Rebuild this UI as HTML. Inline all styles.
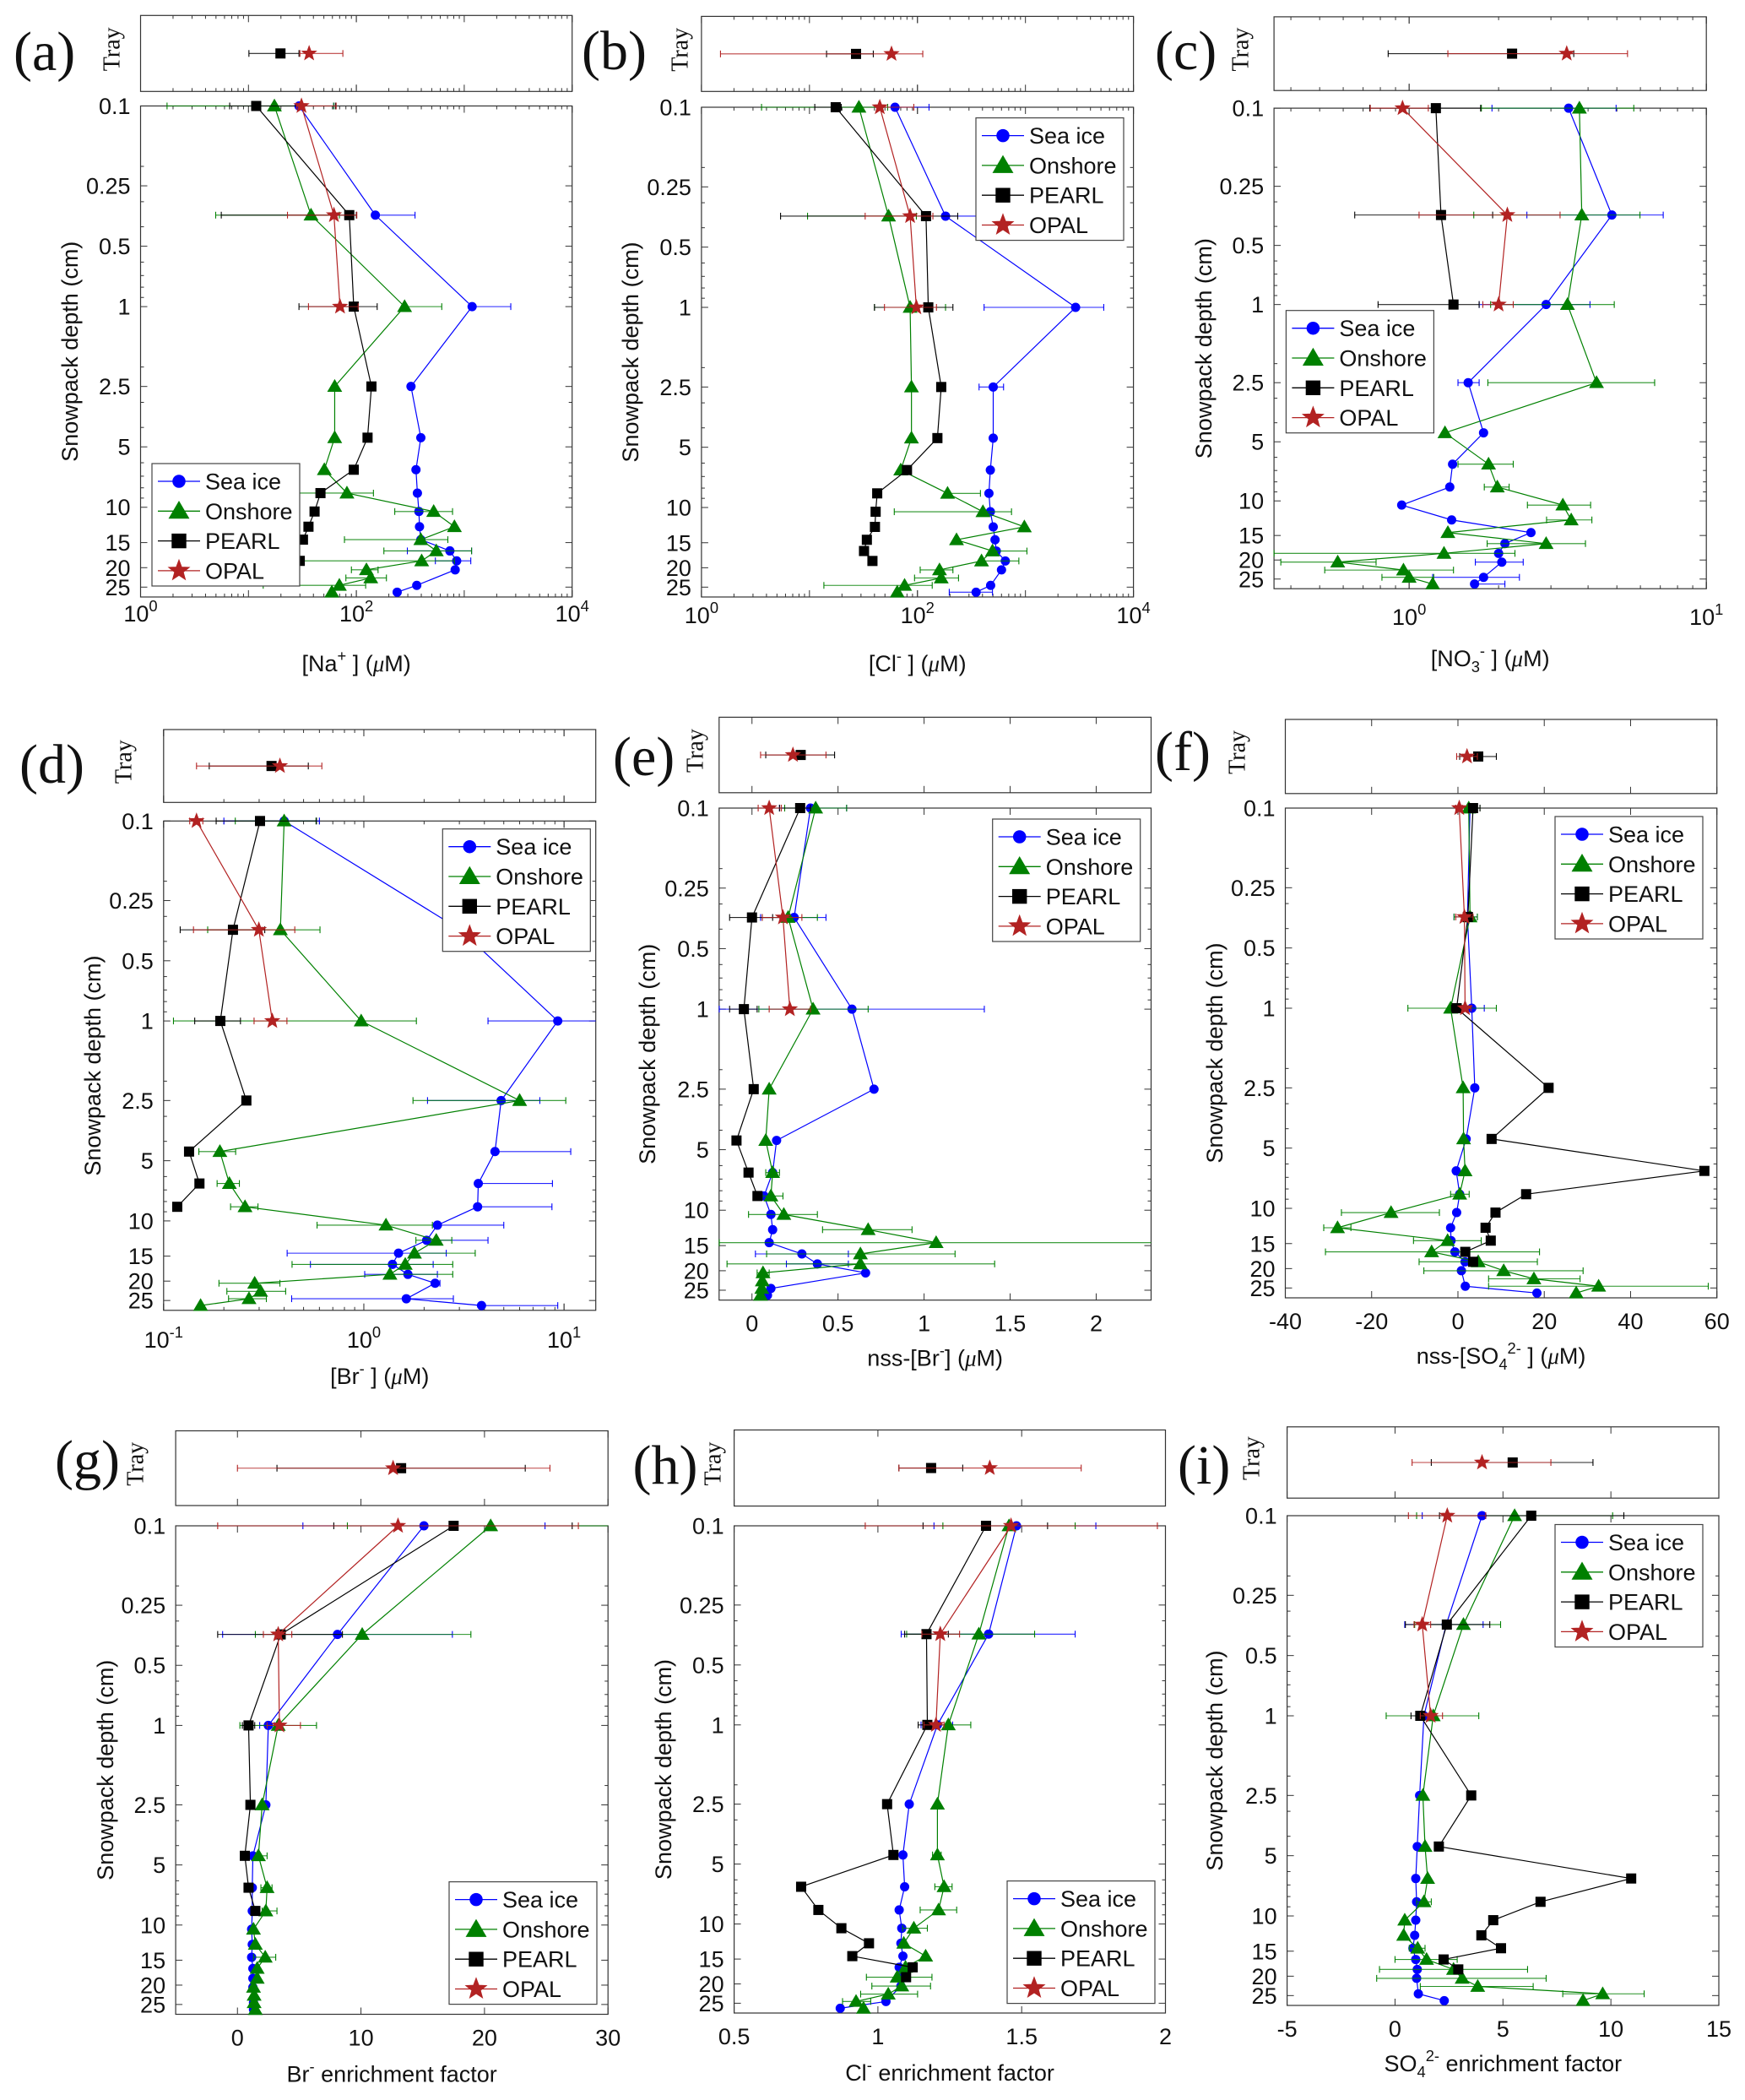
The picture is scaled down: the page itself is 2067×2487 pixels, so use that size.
<!DOCTYPE html>
<html><head><meta charset="utf-8"><style>
html,body{margin:0;padding:0;background:#fff;}
svg{display:block;}
</style></head><body>
<svg id="fig" xmlns="http://www.w3.org/2000/svg" width="2067" height="2487" viewBox="0 0 2067 2487" font-family="Liberation Sans, sans-serif">
<rect x="0" y="0" width="2067" height="2487" fill="#fff"/>
</svg>
<script>
// ---------- data (depths in cm) ----------
const DEPTHS = [0.1,0.35,1,2.5,4.5,6.5,8.5,10.5,12.5,14.5,16.5,18.5,20.5,22.5,24.5,26.5];
const DEPTHS_SEA = [0.1,0.35,1,2.5,4.5,6.5,8.5,10.5,12.5,14.5,16.5,18.5,20.5,24.5,26.5];
const Y_TICKS = [0.1,0.25,0.5,1,2.5,5,10,15,20,25];
const Y_TICK_LABELS = ['0.1','0.25','0.5','1','2.5','5','10','15','20','25'];

// (a) Na+
const A_SEA=[29.4,150,1183,321,396,357,368,380,385,396,736,851,824,363,239];
const A_ON=[17.4,38,280,63,63,50.5,81.8,521,811,396,551,403,124,136,69.6,59.3];
const A_PEARL=[11.8,86,94.6,138,127,94.6,46.5,41,36,32,24.4,29.9];
const A_OPAL=[31,62,70.6];
const A_SEA_ERR=[[0,28.6,61.6],[1,150,350],[2,1183,2700],[10,297,1170],[11,540,1150]];
const A_ON_ERR=[[0,1.76,61.6],[1,4.97,69.6],[2,280,619],[6,18.1,144],[7,227,779],[9,77.6,705],[10,180,1170],[11,16,811],[12,90,159],[13,80,190],[14,13.7,122]];
const A_PEARL_ERR=[[0,6.7,64],[1,5.6,100],[2,29.4,156]];
const A_OPAL_ERR=[[0,28,65],[1,23,101],[2,36,104]];
const A_TRAY_PEARL=[19.8,10.1,29.4];
const A_TRAY_OPAL=[36.5,30,75];
const A_XTICKS=[1,100,10000];
const A_XTICK_LABELS=['0','2','4'];

// (b) Cl-
const B_SEA=[62,182,2913,503,503,473,459,473,503,523,537,651,600,476,349];
const B_ON=[28.7,54,85.5,88,88,70,190,404,977,230,495,392,160,166,76,65];
const B_PEARL=[17.5,120,126,166,153,80,42.4,41,40.4,34,32,38.3];
const B_OPAL=[44.8,85.5,97.7];
const B_SEA_ERR=[[0,62,128],[1,182,424],[2,414,5310],[3,372,627],[14,197,495]];
const B_ON_ERR=[[0,3.6,53],[1,9.6,97.7],[2,40,182],[6,190,383],[7,61,743],[10,495,1032],[11,392,869],[12,106,213],[13,94,240],[14,13.6,137]];
const B_PEARL_ERR=[[0,11.2,19.7],[1,5.4,236],[2,40,213]];
const B_OPAL_ERR=[[0,44.8,92.5],[1,32.8,139],[2,49.5,150]];
const B_TRAY_PEARL=[27,14.4,39];
const B_TRAY_OPAL=[57.5,1.5,112];
const B_XTICKS=[1,100,10000];
const B_XTICK_LABELS=['0','2','4'];

// (c) NO3-
const C_SEA=[3.44,4.81,2.89,1.58,1.78,1.40,1.37,0.944,1.39,2.57,2.10,2.0,2.05,1.78,1.66];
const C_ON=[3.74,3.81,3.41,4.27,1.32,1.85,1.98,3.29,3.51,1.35,2.89,1.31,0.575,0.957,1.0,1.2];
const C_PEARL=[1.23,1.28,1.41];
const C_OPAL=[0.95,2.14,2.0];
const C_SEA_ERR=[[0,1.9,4.97],[1,2.49,7.16],[2,1.72,4.06],[3,1.46,1.72],[12,1.67,2.42],[13,1.2,2.35],[14,1.66,2.1]];
const C_ON_ERR=[[0,1.75,5.7],[1,1.65,5.98],[2,1.88,4.9],[3,1.84,6.7],[5,1.46,2.24],[6,1.79,2.17],[7,2.5,4.08],[8,2.9,4.12],[10,1.83,3.92],[11,0.35,2.27],[12,0.37,0.774],[13,0.52,1.41],[14,0.81,1.21]];
const C_PEARL_ERR=[[0,0.737,1.74],[1,0.656,1.91],[2,0.786,1.72]];
const C_OPAL_ERR=[[0,0.74,1.16],[1,1.08,3.22],[2,1.77,2.24]];
const C_TRAY_PEARL=[2.22,0.85,3.58];
const C_TRAY_OPAL=[3.39,1.35,5.43];
const C_XTICKS=[1,10];
const C_XTICK_LABELS=['0','1'];

// (d) Br-
const D_SEA=[0.4,3.04,9.3,4.85,4.52,3.73,3.7,2.33,2.06,1.49,1.39,1.66,2.27,1.63,3.87];
const D_ON=[0.4,0.383,0.97,6.0,0.191,0.213,0.255,1.29,2.3,1.79,1.61,1.35,0.285,0.305,0.267,0.153];
const D_PEARL=[0.303,0.222,0.192,0.259,0.134,0.151,0.117];
const D_OPAL=[0.146,0.299,0.349];
const D_SEA_ERR=[[0,0.2,0.6],[2,4.17,20],[3,2.08,7.57],[4,4.52,10.8],[5,3.73,8.75],[6,3.7,8.7],[7,2.33,5.0],[8,2.06,4.17],[9,0.414,2.58],[10,0.541,2.22],[11,1.01,2.33],[12,2.27,2.4],[13,0.436,2.8],[14,3.87,9.3]];
const D_ON_ERR=[[0,0.228,0.577],[1,0.166,0.604],[2,0.112,1.83],[3,1.76,10.2],[4,0.15,0.229],[5,0.185,0.239],[6,0.216,0.296],[7,0.584,2.2],[8,1.82,2.75],[9,1.79,3.6],[10,0.438,2.78],[11,1.35,2.78],[12,0.189,0.381],[13,0.207,0.407],[14,0.211,0.326]];
const D_PEARL_ERR=[[0,0.183,0.58],[1,0.121,0.32],[2,0.143,0.242]];
const D_OPAL_ERR=[[0,0.135,0.157],[1,0.141,0.452],[2,0.283,0.413]];
const D_TRAY_PEARL=[0.346,0.169,0.528];
const D_TRAY_OPAL=[0.381,0.146,0.617];
const D_XTICKS=[0.1,1,10];
const D_XTICK_LABELS=['-1','0','1'];

// (e) nss-Br-
const E_SEA=[0.34,0.245,0.581,0.709,0.143,0.12,0.07,0.11,0.12,0.10,0.29,0.38,0.66,0.11,0.09];
const E_ON=[0.37,0.21,0.355,0.10,0.08,0.12,0.11,0.185,0.675,1.07,0.63,0.63,0.064,0.06,0.057,0.05];
const E_PEARL=[0.28,0.0,-0.047,0.01,-0.09,-0.02,0.032];
const E_OPAL=[0.1,0.18,0.22];
const E_SEA_ERR=[[0,0.16,0.55],[1,0.05,0.43],[2,-0.19,1.35],[10,0.02,0.56],[11,0.2,0.56]];
const E_ON_ERR=[[0,0.19,0.55],[1,0.06,0.38],[2,0.04,0.675],[5,0.08,0.16],[6,0.06,0.18],[7,-0.02,0.38],[8,0.41,0.93],[9,-0.19,2.4],[10,0.085,1.18],[11,-0.145,1.41],[12,0.03,0.1]];
const E_PEARL_ERR=[[0,0.16,0.34],[1,-0.13,0.12],[2,-0.13,0.03]];
const E_OPAL_ERR=[[0,0.036,0.17],[1,0.06,0.29],[2,0.1,0.34]];
const E_TRAY_PEARL=[0.283,0.08,0.48];
const E_TRAY_OPAL=[0.238,0.05,0.43];
const E_XTICKS=[0,0.5,1,1.5,2];
const E_XTICK_LABELS=['0','0.5','1','1.5','2'];

// (f) nss-SO4 2-
const F_SEA=[2.8,2.2,3.2,3.9,1.9,-0.4,0.4,-0.3,-1.7,-1.6,-0.7,1.65,0.8,1.7,18.3];
const F_ON=[2.5,2.8,-1.7,1.2,1.3,1.65,0.4,-15.5,-27.9,-2.4,-6.1,4.7,10.6,17.6,32.6,27.4];
const F_PEARL=[3.5,2.3,-0.3,21,7.8,57.1,15.8,8.7,6.4,7.6,1.7,3.5];
const F_OPAL=[0.3,1.5,1.65];
const F_SEA_ERR=[[1,-0.9,4.5],[2,3.2,6.1]];
const F_ON_ERR=[[0,2.5,5.1],[1,-0.9,4.5],[2,-11.6,8.9],[6,-1.7,2.6],[7,-27,-4.3],[8,-31.1,-24.8],[9,-10.3,5.4],[10,-30.7,18.9],[11,-9,18.4],[12,-7.9,29],[13,7.1,28.3],[14,7.1,58]];
const F_PEARL_ERR=[[0,2.5,5.1],[2,-1.5,1]];
const F_OPAL_ERR=[[0,-0.5,1],[1,-0.5,3.5],[2,1,3]];
const F_TRAY_PEARL=[4.7,0.4,8.9];
const F_TRAY_OPAL=[2.1,-0.3,4.5];
const F_XTICKS=[-40,-20,0,20,40,60];
const F_XTICK_LABELS=['-40','-20','0','20','40','60'];

// (g) Br- EF
const G_SEA=[15.1,8.1,2.5,2.3,1.25,1.2,1.2,1.15,1.2,1.15,1.25,1.25,1.25,1.3,1.3];
const G_ON=[20.5,10.1,3.3,2.0,1.7,2.4,2.3,1.3,1.45,2.25,1.6,1.6,1.3,1.35,1.35,1.45];
const G_PEARL=[17.5,3.5,0.9,1.05,0.6,0.9,1.45];
const G_OPAL=[13.0,3.3,3.4];
const G_SEA_ERR=[[0,5.3,24.9],[1,-1.2,17.4],[2,1.8,3.0]];
const G_ON_ERR=[[0,8.9,31],[1,1.45,18.9],[2,0.2,6.4],[4,1.5,2.4],[5,1.9,2.8],[6,2.0,3.2],[9,1.3,3.1]];
const G_PEARL_ERR=[[0,7.8,27.1],[1,-1.6,8.5],[2,0.4,1.4]];
const G_OPAL_ERR=[[0,-1.6,27.6],[1,2.1,4.4],[2,2.4,5.1]];
const G_TRAY_PEARL=[13.25,3.2,23.3];
const G_TRAY_OPAL=[12.6,0,25.3];
const G_XTICKS=[0,10,20,30];
const G_XTICK_LABELS=['0','10','20','30'];

// (h) Cl- EF
const H_SEA=[1.482,1.385,1.207,1.109,1.087,1.093,1.074,1.083,1.08,1.087,1.074,1.08,1.08,1.028,0.869];
const H_ON=[1.456,1.351,1.245,1.207,1.207,1.23,1.211,1.125,1.09,1.166,1.096,1.067,1.083,1.036,0.924,0.95];
const H_PEARL=[1.376,1.169,1.172,1.032,1.054,0.733,0.793,0.873,0.969,0.911,1.121,1.098];
const H_OPAL=[1.463,1.217,1.202];
const H_SEA_ERR=[[0,1.195,1.758],[1,1.081,1.686],[2,1.15,1.26]];
const H_ON_ERR=[[0,1.226,1.686],[1,1.1,1.545],[2,1.17,1.323],[4,1.19,1.22],[5,1.198,1.258],[6,1.147,1.274],[7,1.086,1.172],[11,0.96,1.188],[12,0.979,1.183],[13,0.94,1.138],[14,0.877,0.975]];
const H_PEARL_ERR=[[0,1.157,1.59],[1,1.093,1.245],[2,1.14,1.21]];
const H_OPAL_ERR=[[0,0.956,1.972],[1,1.153,1.284],[2,1.16,1.23]];
const H_TRAY_PEARL=[1.185,1.073,1.295];
const H_TRAY_OPAL=[1.389,1.073,1.707];
const H_XTICKS=[0.5,1,1.5,2];
const H_XTICK_LABELS=['0.5','1','1.5','2'];

// (i) SO4 2- EF
const I_SEA=[4.03,2.37,1.34,1.14,1.03,0.96,1.0,0.96,0.91,0.83,0.96,1.03,1.0,1.08,2.28];
const I_ON=[5.54,3.17,1.77,1.29,1.39,1.51,1.34,0.45,0.4,1.05,1.46,2.71,3.11,3.83,9.62,8.71];
const I_PEARL=[6.31,2.4,1.17,3.53,2.03,10.94,6.74,4.55,4.0,4.91,2.25,2.93];
const I_OPAL=[2.42,1.26,1.65];
const I_SEA_ERR=[[0,1.26,4.2],[1,0.45,4.08]];
const I_ON_ERR=[[0,1.0,10.08],[1,0.91,4.89],[2,-0.41,3.88],[6,1.0,1.68],[9,0.66,1.39],[10,0.0,2.88],[11,-0.72,6.14],[12,-0.85,7.0],[13,1.17,6.4],[14,7.77,11.54]];
const I_PEARL_ERR=[[0,2.06,10.6],[1,0.48,4.39],[2,0.74,1.6]];
const I_OPAL_ERR=[[0,0.62,4.2],[1,0.88,1.65],[2,1.17,2.2]];
const I_TRAY_PEARL=[5.45,1.68,9.17];
const I_TRAY_OPAL=[4.03,0.79,7.22];
const I_XTICKS=[-5,0,5,10,15];
const I_XTICK_LABELS=['-5','0','5','10','15'];

const SERIES_NAMES=['Sea ice','Onshore','PEARL','OPAL'];

// ---------- layout ----------
const STYLE=[{c:'#0000ff',m:'circle',k:'sea-ice'},{c:'#008000',m:'tri',k:'onshore'},{c:'#000000',m:'sq',k:'pearl'},{c:'#b22222',m:'star',k:'opal'}];
const PANELS=[
 {id:'a',L:166.5,R:677.7,T:125.5,B:707,tT:18.3,tB:108.3,log:true,xmin:1,xmax:1e4,xt:A_XTICKS,xl:A_XTICK_LABELS,s:[A_SEA,A_ON,A_PEARL,A_OPAL],e:[A_SEA_ERR,A_ON_ERR,A_PEARL_ERR,A_OPAL_ERR],tp:A_TRAY_PEARL,to:A_TRAY_OPAL,yl:83,tl:133,lx:16,ly:64,gx:180,gy:549,to1:29,xo:88,lab:[['[Na',''],['+','sup'],[' ] (',''],['μ','it'],['M)','']]},
 {id:'b',L:830.9,R:1342.6,T:127,B:707,tT:19.4,tB:108.3,log:true,xmin:1,xmax:1e4,xt:B_XTICKS,xl:B_XTICK_LABELS,s:[B_SEA,B_ON,B_PEARL,B_OPAL],e:[B_SEA_ERR,B_ON_ERR,B_PEARL_ERR,B_OPAL_ERR],tp:B_TRAY_PEARL,to:B_TRAY_OPAL,yl:747,tl:806,lx:689,ly:63,gx:1156,gy:139.6,to1:31,xo:88,lab:[['[Cl',''],['-','sup'],[' ] (',''],['μ','it'],['M)','']]},
 {id:'c',L:1509.1,R:2021.2,T:128.1,B:697.2,tT:19.9,tB:107.2,log:true,xmin:0.351,xmax:10,xt:C_XTICKS,xl:C_XTICK_LABELS,s:[C_SEA,C_ON,C_PEARL,C_OPAL],e:[C_SEA_ERR,C_ON_ERR,C_PEARL_ERR,C_OPAL_ERR],tp:C_TRAY_PEARL,to:C_TRAY_OPAL,yl:1426,tl:1470,lx:1368,ly:63,gx:1523.4,gy:367.7,to1:43,xo:92,lab:[['[NO',''],['3','sub'],['-','sup'],[' ] (',''],['μ','it'],['M)','']]},
 {id:'d',L:193.8,R:705.7,T:972.3,B:1551.8,tT:864,tB:950.3,log:true,xmin:0.1,xmax:14.4,xt:D_XTICKS,xl:D_XTICK_LABELS,s:[D_SEA,D_ON,D_PEARL,D_OPAL],e:[D_SEA_ERR,D_ON_ERR,D_PEARL_ERR,D_OPAL_ERR],tp:D_TRAY_PEARL,to:D_TRAY_OPAL,yl:110,tl:147,lx:23,ly:908,gx:524.3,gy:981.7,to1:44,xo:87,lab:[['[Br',''],['-','sup'],[' ] (',''],['μ','it'],['M)','']]},
 {id:'e',L:851.8,R:1363.5,T:957,B:1539.7,tT:849.4,tB:938.8,log:false,xmin:-0.191,xmax:2.319,xt:E_XTICKS,xl:E_XTICK_LABELS,s:[E_SEA,E_ON,E_PEARL,E_OPAL],e:[E_SEA_ERR,E_ON_ERR,E_PEARL_ERR,E_OPAL_ERR],tp:E_TRAY_PEARL,to:E_TRAY_OPAL,yl:767,tl:824,lx:726,ly:899,gx:1175.7,gy:970,to1:37,xo:78,lab:[['nss-[Br',''],['-','sup'],['] (',''],['μ','it'],['M)','']]},
 {id:'f',L:1522.5,R:2033.7,T:957,B:1537,tT:852,tB:939.8,log:false,xmin:-40,xmax:60,xt:F_XTICKS,xl:F_XTICK_LABELS,s:[F_SEA,F_ON,F_PEARL,F_OPAL],e:[F_SEA_ERR,F_ON_ERR,F_PEARL_ERR,F_OPAL_ERR],tp:F_TRAY_PEARL,to:F_TRAY_OPAL,yl:1439,tl:1466,lx:1368,ly:893,gx:1842,gy:967,to1:37,xo:78,lab:[['nss-[SO',''],['4','sub'],['2-','sup'],[' ] (',''],['μ','it'],['M)','']]},
 {id:'g',L:208.1,R:720.2,T:1807,B:2385.5,tT:1694.5,tB:1783,log:false,xmin:-5,xmax:30,xt:G_XTICKS,xl:G_XTICK_LABELS,s:[G_SEA,G_ON,G_PEARL,G_OPAL],e:[G_SEA_ERR,G_ON_ERR,G_PEARL_ERR,G_OPAL_ERR],tp:G_TRAY_PEARL,to:G_TRAY_OPAL,yl:125,tl:161,lx:65,ly:1732,gx:532,gy:2228.6,to1:37,xo:80,lab:[['Br',''],['-','sup'],[' enrichment factor','']]},
 {id:'h',L:869.6,R:1380.5,T:1807,B:2384,tT:1693.5,tB:1783.6,log:false,xmin:0.5,xmax:2,xt:H_XTICKS,xl:H_XTICK_LABELS,s:[H_SEA,H_ON,H_PEARL,H_OPAL],e:[H_SEA_ERR,H_ON_ERR,H_PEARL_ERR,H_OPAL_ERR],tp:H_TRAY_PEARL,to:H_TRAY_OPAL,yl:786,tl:845,lx:749.5,ly:1738,gx:1193,gy:2227.6,to1:37,xo:80,lab:[['Cl',''],['-','sup'],[' enrichment factor','']]},
 {id:'i',L:1524.6,R:2036,T:1795,B:2375,tT:1689.8,tB:1774.2,log:false,xmin:-5,xmax:15,xt:I_XTICKS,xl:I_XTICK_LABELS,s:[I_SEA,I_ON,I_PEARL,I_OPAL],e:[I_SEA_ERR,I_ON_ERR,I_PEARL_ERR,I_OPAL_ERR],tp:I_TRAY_PEARL,to:I_TRAY_OPAL,yl:1439,tl:1483,lx:1395,ly:1738,gx:1842,gy:1805.5,to1:37,xo:78,lab:[['SO',''],['4','sub'],['2-','sup'],[' enrichment factor','']]}
];

const NS='http://www.w3.org/2000/svg';
const svg=document.getElementById('fig');
function mk(tag,attrs,parent){const el=document.createElementNS(NS,tag);for(const k in attrs)el.setAttribute(k,attrs[k]);(parent||svg).appendChild(el);return el;}

function xScale(p){
  if(p.log){const a=Math.log10(p.xmin),b=Math.log10(p.xmax);return v=>p.L+(Math.log10(Math.max(v,1e-9))-a)/(b-a)*(p.R-p.L);}
  return v=>p.L+(v-p.xmin)/(p.xmax-p.xmin)*(p.R-p.L);
}
function yScale(p){const a=-1,b=Math.log10(28);return d=>p.T+(Math.log10(d)-a)/(b-a)*(p.B-p.T);}
function clampX(p,x){return Math.max(p.L,Math.min(p.R,x));}

function markerShape(g,type,cx,cy,sz,color){
  let el;
  if(type==='circle'){el=mk('circle',{cx:cx,cy:cy,r:5*sz,fill:color,stroke:color,'stroke-width':1},g);}
  else if(type==='tri'){const hw=8*sz,h=13*sz;el=mk('polygon',{points:`${cx-hw},${cy+h*0.45} ${cx+hw},${cy+h*0.45} ${cx},${cy-h*0.6}`,fill:color,stroke:color,'stroke-width':1},g);}
  else if(type==='sq'){const s=6*sz;el=mk('rect',{x:cx-s,y:cy-s,width:2*s,height:2*s,fill:color},g);}
  else{const R=9*sz,r=R*0.42;let pts=[];for(let i=0;i<10;i++){const ang=-Math.PI/2+i*Math.PI/5;const rr=i%2?r:R;pts.push((cx+rr*Math.cos(ang)).toFixed(2)+','+(cy+rr*Math.sin(ang)).toFixed(2));}
    el=mk('polygon',{points:pts.join(' '),fill:color,stroke:color,'stroke-width':0.8},g);}
  return el;
}
function errBar(g,p,x1,x2,y,color){
  const a=clampX(p,x1),b=clampX(p,x2);
  const ln=mk('line',{x1:a,y1:y,x2:b,y2:y,stroke:color,'stroke-width':1.1,opacity:0.85},g);
  
  
  [[x1,a],[x2,b]].forEach(([raw,c])=>{ if(raw>=p.L-0.5&&raw<=p.R+0.5){const cap=mk('line',{x1:c,y1:y-4,x2:c,y2:y+4,stroke:color,'stroke-width':1.1},g);
    
    }});
}
function richText(parent,x,y,segs,size,anchor){
  const t=mk('text',{x:x,y:y,'font-size':size,'text-anchor':anchor||'middle',fill:'#111'},parent);
  let cur=0;
  segs.forEach(([s,kind])=>{
    let target=0,fs=size,extra={};
    if(kind==='sup'){target=-12;fs=size*0.68;}
    else if(kind==='sub'){target=7;fs=size*0.68;}
    else if(kind==='it'){extra={'font-style':'italic','font-family':'Liberation Serif, serif'};}
    const ts=mk('tspan',Object.assign({dy:target-cur,'font-size':fs},extra),t);
    ts.textContent=s;cur=target;
  });
  return t;
}

PANELS.forEach(p=>{
  const g=mk('g',{},svg);
  
  
  const X=xScale(p),Y=yScale(p);

  const lt=mk('text',{x:p.lx,y:p.ly+19,'font-size':66,'font-family':'Liberation Serif, serif',fill:'#111'},g);
  lt.textContent='('+p.id+')';
  
  

  const tray=mk('rect',{x:p.L,y:p.tT,width:p.R-p.L,height:p.tB-p.tT,fill:'#fff',stroke:'#333','stroke-width':1.2},g);
  
  
  const tmid=(p.tT+p.tB)/2;
  const tlab=mk('text',{x:p.tl,y:tmid-5,'font-size':28,'font-family':'Liberation Serif, serif','text-anchor':'middle','dominant-baseline':'central',transform:`rotate(-90 ${p.tl} ${tmid-5})`,fill:'#111'},g);
  tlab.textContent='Tray';
  
  

  const box=mk('rect',{x:p.L,y:p.T,width:p.R-p.L,height:p.B-p.T,fill:'none',stroke:'#333','stroke-width':1.2},g);
  
  

  const majors=p.xt;
  let minors=[];
  if(p.log){const k0=Math.floor(Math.log10(p.xmin)),k1=Math.ceil(Math.log10(p.xmax));
    for(let k=k0;k<=k1;k++)for(let n=1;n<10;n++){const v=n*Math.pow(10,k);if(v>=p.xmin&&v<=p.xmax)minors.push(v);}}
  const tickG=mk('g',{stroke:'#333','stroke-width':1},g);
  
  
  const drawXT=(v,len)=>{const x=X(v);[[p.B,-1],[p.T,1],[p.tB,-1],[p.tT,1]].forEach(([yy,dir])=>{mk('line',{x1:x,y1:yy,x2:x,y2:yy+dir*len},tickG);});};
  minors.forEach(v=>drawXT(v,p.log&&Math.abs(Math.log10(v)-Math.round(Math.log10(v)))<1e-6?8:4));
  majors.forEach(v=>drawXT(v,8));
  majors.forEach((v,i)=>{
    let t;
    if(p.log){t=richText(g,X(v),p.B+p.to1,[['10',''],[p.xl[i],'sup']],27,'middle');}
    else{t=mk('text',{x:X(v),y:p.B+p.to1,'font-size':27,'text-anchor':'middle',fill:'#111'},g);t.textContent=p.xl[i];}
    
    
  });
  const ymin=[0.2,0.3,0.4,0.6,0.7,0.8,0.9,2,3,4,6,7,8,9];
  ymin.forEach(d=>{const y=Y(d);mk('line',{x1:p.L,y1:y,x2:p.L+4,y2:y},tickG);mk('line',{x1:p.R,y1:y,x2:p.R-4,y2:y},tickG);});
  Y_TICKS.forEach((d,i)=>{const y=Y(d);mk('line',{x1:p.L,y1:y,x2:p.L+8,y2:y},tickG);mk('line',{x1:p.R,y1:y,x2:p.R-8,y2:y},tickG);
    const t=mk('text',{x:p.L-12,y:y+9.5,'font-size':27,'text-anchor':'end',fill:'#111'},g);t.textContent=Y_TICK_LABELS[i];
    
    });

  const xl=richText(g,(p.L+p.R)/2,p.B+p.xo,p.lab,27,'middle');
  
  
  const ymid=(p.T+p.B)/2;
  const yl=mk('text',{x:p.yl,y:ymid,'font-size':27,'text-anchor':'middle','dominant-baseline':'central',transform:`rotate(-90 ${p.yl} ${ymid})`,fill:'#111'},g);
  yl.textContent='Snowpack depth (cm)';
  
  

  const depthFor=i=>i===0?DEPTHS_SEA:DEPTHS;
  p.s.forEach((vals,si)=>{
    const st=STYLE[si];const dep=depthFor(si);
    const sg=mk('g',{},g);
    
    
    p.e[si].forEach(([idx,lo,hi])=>{errBar(sg,p,X(lo),X(hi),Y(dep[idx]),st.c);});
    const pts=vals.map((v,i)=>clampX(p,X(v)).toFixed(2)+','+Y(dep[i]).toFixed(2)).join(' ');
    const pl=mk('polyline',{points:pts,fill:'none',stroke:st.c,'stroke-width':1.2},sg);
    
    
    vals.forEach((v,i)=>{const m=markerShape(sg,st.m,X(v),Y(dep[i]),1,st.c);
      
      });
  });

  [[p.tp,2],[p.to,3]].forEach(([arr,si])=>{
    const st=STYLE[si];
    const tg=mk('g',{},g);
    
    
    errBar(tg,p,X(arr[1]),X(arr[2]),tmid,st.c);
    const m=markerShape(tg,st.m,X(arr[0]),tmid,1,st.c);
    
    
  });

  const lg=mk('g',{},g);
  
  
  const lb=mk('rect',{x:p.gx,y:p.gy,width:175,height:145,fill:'#fff',stroke:'#444','stroke-width':1.2},lg);
  
  
  SERIES_NAMES.forEach((nm,i)=>{
    const st=STYLE[i];const cy=p.gy+21+i*35.3;
    const eg=mk('g',{},lg);
    
    
    mk('line',{x1:p.gx+7,y1:cy,x2:p.gx+57,y2:cy,stroke:st.c,'stroke-width':1.3},eg);
    markerShape(eg,st.m,p.gx+32,cy,1.45,st.c);
    const t=mk('text',{x:p.gx+63,y:cy+9.5,'font-size':27,fill:'#111'},eg);t.textContent=nm;
  });
});
</script>
</body></html>
